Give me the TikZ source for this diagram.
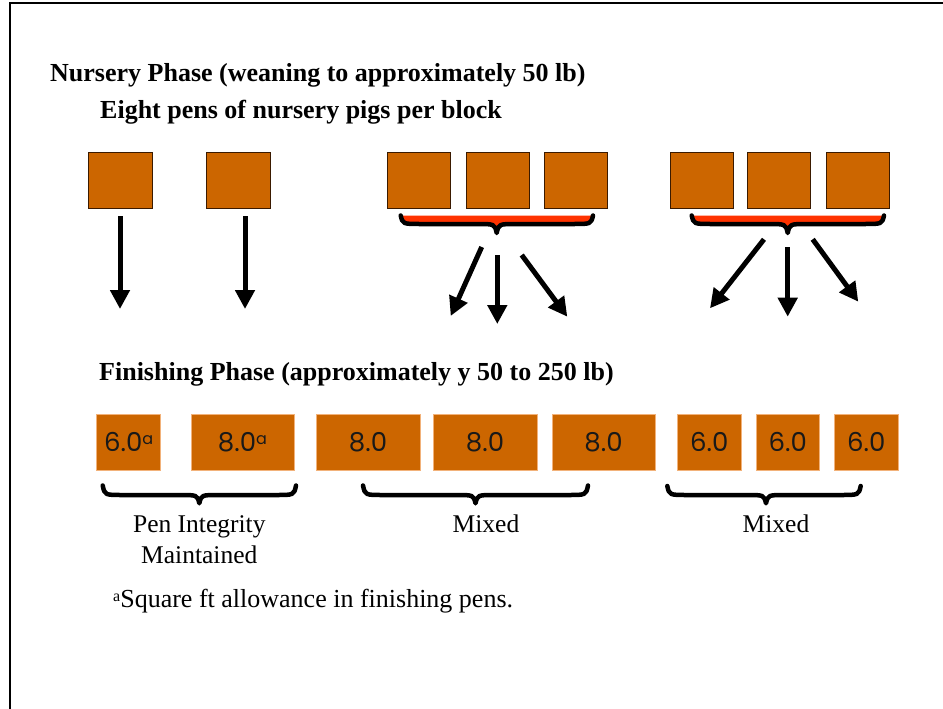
\documentclass[tikz,border=0pt]{standalone}
\usepackage{fontspec}
\setmainfont{Liberation Serif}
\newfontfamily\boxfont{Poppins}
\usetikzlibrary{arrows.meta}
\definecolor{penfill}{HTML}{CC6600}
\definecolor{penedge}{HTML}{3A1A00}
\definecolor{penedgelight}{HTML}{F2B27A}
\definecolor{bracered}{HTML}{FF3300}
\tikzset{
  toppen/.style={draw=penedge, line width=0.8pt, fill=penfill},
  botpen/.style={draw=penedgelight, line width=0.8pt, fill=penfill, font=\boxfont\fontsize{26}{30}\selectfont, text=black!90},
  bigarrow/.style={line width=5pt, -{Triangle[width=19pt,length=19pt]}},
  bracestroke/.style={line width=4.5pt, line cap=round, line join=round},
  headtext/.style={font=\bfseries\fontsize{26}{30}\selectfont, anchor=base west, inner sep=0pt},
  labeltext/.style={font=\fontsize{25.5}{30}\selectfont, anchor=base, inner sep=0pt},
}
\newcommand{\supa}{\raisebox{0.5ex}{\fontsize{16}{17}\selectfont a}}
\newcommand{\bracedown}[6]{% x1, x2, xm, yend, yline, ytip
  \draw[bracestroke] (#1,#4) .. controls (#1+2,#5) .. (#1+20,#5) -- (#3-20,#5)
    .. controls (#3-2,#5) .. (#3,#6) .. controls (#3+2,#5) .. (#3+20,#5) -- (#2-20,#5)
    .. controls (#2-2,#5) .. (#2,#4);}
\newcommand{\bracefill}[6]{%
  \fill[bracered] (#1,#4) .. controls (#1+2,#5) .. (#1+20,#5) -- (#3-20,#5)
    .. controls (#3-2,#5) .. (#3,#6) .. controls (#3+2,#5) .. (#3+20,#5) -- (#2-20,#5)
    .. controls (#2-2,#5) .. (#2,#4) -- cycle;}
\begin{document}
\begin{tikzpicture}[x=1pt,y=-1pt]
\useasboundingbox (0,0) rectangle (943,709);
% frame
\draw[line width=2pt] (10,709) -- (10,3) -- (943,3);

% headings
\node[headtext] (h1) at (50,81.5) {Nursery Phase (weaning to approximately 50 lb)};
\node[headtext] (h2) at (100,118) {Eight pens of nursery pigs per block};
\node[headtext] (h3) at (99,380) {Finishing Phase (approximately y 50 to 250 lb)};

% top pens
\node[toppen, minimum width=64pt, minimum height=56pt, inner sep=0pt] (t1) at (120,180) {};
\node[toppen, minimum width=64pt, minimum height=56pt, inner sep=0pt] (t2) at (238.3,180) {};
\node[toppen, minimum width=63pt, minimum height=56pt, inner sep=0pt] (t3) at (419,180) {};
\node[toppen, minimum width=63pt, minimum height=56pt, inner sep=0pt] (t4) at (497.5,180) {};
\node[toppen, minimum width=63pt, minimum height=56pt, inner sep=0pt] (t5) at (576,180) {};
\node[toppen, minimum width=63pt, minimum height=56pt, inner sep=0pt] (t6) at (701.7,180) {};
\node[toppen, minimum width=63pt, minimum height=56pt, inner sep=0pt] (t7) at (779,180) {};
\node[toppen, minimum width=63pt, minimum height=56pt, inner sep=0pt] (t8) at (858.3,180) {};

% top braces with red fill
\bracefill{400.7}{593}{496.7}{215.5}{224}{233}
\bracedown{400.7}{593}{496.7}{215.5}{224}{233}
\bracefill{691.7}{884}{787.7}{215.5}{224}{233}
\bracedown{691.7}{884}{787.7}{215.5}{224}{233}

% arrow coordinates
\coordinate (a1s) at (120,216);   \coordinate (a1e) at (120,309);
\coordinate (a2s) at (245,216);   \coordinate (a2e) at (245,309);
\coordinate (a3s) at (481.7,247); \coordinate (a3e) at (450.7,316);
\coordinate (a4s) at (497.3,255); \coordinate (a4e) at (497.3,324);
\coordinate (a5s) at (521.7,255); \coordinate (a5e) at (567.3,316.7);
\coordinate (a6s) at (764,239.3); \coordinate (a6e) at (710,308.3);
\coordinate (a7s) at (787.7,247.3); \coordinate (a7e) at (787.7,316.7);
\coordinate (a8s) at (812.7,239.3); \coordinate (a8e) at (858.3,301.7);
\foreach \i in {1,...,8} {\draw[bigarrow] (a\i s) -- (a\i e);}

% bottom pens
\node[botpen, minimum width=64pt, minimum height=55.7pt, inner sep=0pt] (b1) at (128.7,442.2) {6.0\supa};
\node[botpen, minimum width=103pt, minimum height=55.7pt, inner sep=0pt] (b2) at (242.5,442.2) {8.0\supa};
\node[botpen, minimum width=104pt, minimum height=55.7pt, inner sep=0pt] (b3) at (368,442.2) {8.0};
\node[botpen, minimum width=104pt, minimum height=55.7pt, inner sep=0pt] (b4) at (485,442.2) {8.0};
\node[botpen, minimum width=103pt, minimum height=55.7pt, inner sep=0pt] (b5) at (603.5,442.2) {8.0};
\node[botpen, minimum width=64pt, minimum height=55.7pt, inner sep=0pt] (b6) at (709.3,442.2) {6.0};
\node[botpen, minimum width=63.3pt, minimum height=55.7pt, inner sep=0pt] (b7) at (787.7,442.2) {6.0};
\node[botpen, minimum width=64.3pt, minimum height=55.7pt, inner sep=0pt] (b8) at (866.2,442.2) {6.0};

% bottom braces
\bracedown{102.7}{296}{199.3}{485.5}{495}{503.3}
\bracedown{363}{588}{475.5}{485.5}{495}{503.3}
\bracedown{667.3}{860.7}{766}{486}{495}{503.3}

% labels
\node[labeltext] (l1) at (199.3,532.7) {Pen Integrity};
\node[labeltext] (l2) at (199.3,563.3) {Maintained};
\node[labeltext] (l3) at (486,532.7) {Mixed};
\node[labeltext] (l4) at (776,532.7) {Mixed};

% footnote
\node[font=\fontsize{26}{30}\selectfont, anchor=base west, inner sep=0pt] (fn) at (113,607.5) {\raisebox{0.5ex}{\fontsize{16}{17}\selectfont a}Square ft allowance in finishing pens.};
\end{tikzpicture}
\end{document}
